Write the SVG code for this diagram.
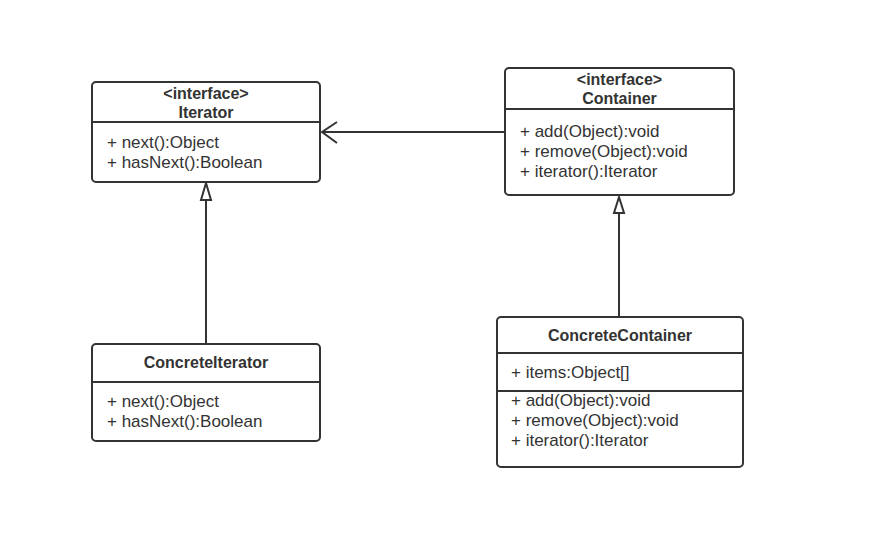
<svg xmlns="http://www.w3.org/2000/svg" width="870" height="541" viewBox="0 0 870 541">
<style>
.box{fill:#fff;stroke:#333;stroke-width:2}
.div{stroke:#333;stroke-width:2}
.t{font-family:"Liberation Sans",Arial,sans-serif;font-size:17px;fill:#333}
.b{font-family:"Liberation Sans",Arial,sans-serif;font-size:16px;font-weight:bold;fill:#333;text-anchor:middle}
.c{fill:none;stroke:#333;stroke-width:2}
.head{fill:#fff;stroke:#333;stroke-width:2}
</style>
<g id="connectors">
<path class="c" d="M206,344 V200"/>
<path class="head" d="M206,183 L211,200 L201,200 Z"/>
<path class="c" d="M619,317 V213"/>
<path class="head" d="M619,197 L624,213 L614,213 Z"/>
<path class="c" d="M505,132 H322"/>
<path class="c" d="M337,122 L322,132 L337,143" stroke-width="2.5"/>
</g>
<g id="iterator">
<rect class="box" x="92" y="82" width="228" height="100" rx="4"/>
<line class="div" x1="92" y1="122" x2="320" y2="122"/>
<text class="b" x="206" y="98.5">&lt;interface&gt;</text>
<text class="b" x="206" y="117.5">Iterator</text>
<text class="t" x="107" y="148">+ next():Object</text>
<text class="t" x="107" y="168">+ hasNext():Boolean</text>
</g>
<g id="container">
<rect class="box" x="505" y="68" width="229" height="127" rx="4"/>
<line class="div" x1="505" y1="109" x2="734" y2="109"/>
<text class="b" x="619.5" y="84.5">&lt;interface&gt;</text>
<text class="b" x="619.5" y="103.5">Container</text>
<text class="t" x="520" y="137">+ add(Object):void</text>
<text class="t" x="520" y="157">+ remove(Object):void</text>
<text class="t" x="520" y="177">+ iterator():Iterator</text>
</g>
<g id="concreteIterator">
<rect class="box" x="92" y="344" width="228" height="97" rx="4"/>
<line class="div" x1="92" y1="382" x2="320" y2="382"/>
<text class="b" x="206" y="368">ConcreteIterator</text>
<text class="t" x="107" y="407">+ next():Object</text>
<text class="t" x="107" y="427">+ hasNext():Boolean</text>
</g>
<g id="concreteContainer">
<rect class="box" x="497" y="317" width="246" height="150" rx="4"/>
<line class="div" x1="497" y1="353" x2="743" y2="353"/>
<line class="div" x1="497" y1="391" x2="743" y2="391"/>
<text class="b" x="620" y="341">ConcreteContainer</text>
<text class="t" x="511" y="378">+ items:Object[]</text>
<text class="t" x="511" y="406">+ add(Object):void</text>
<text class="t" x="511" y="426">+ remove(Object):void</text>
<text class="t" x="511" y="446">+ iterator():Iterator</text>
</g>
</svg>
